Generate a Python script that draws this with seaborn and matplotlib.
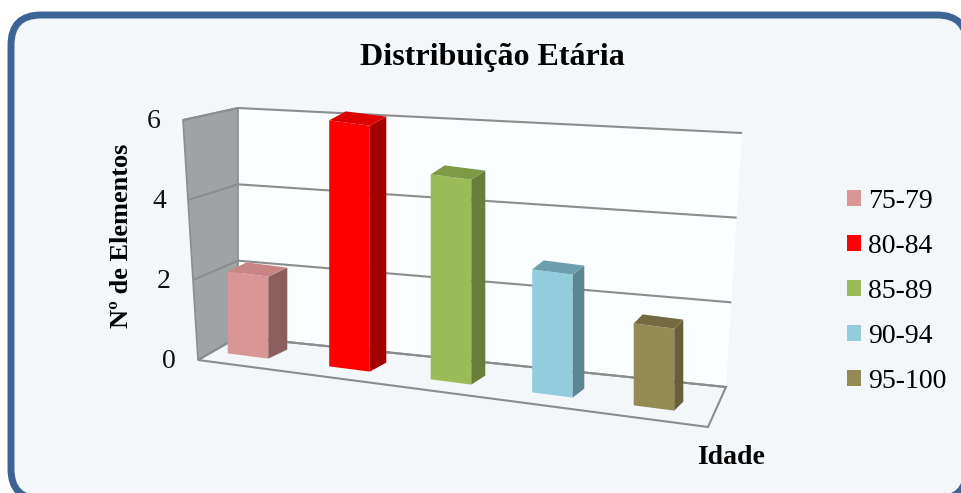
import numpy as np
import pandas as pd
import matplotlib
matplotlib.use("Agg")
import matplotlib.pyplot as plt
import seaborn as sns
from matplotlib.transforms import Affine2D
from matplotlib.patches import Polygon, FancyBboxPatch, Patch

# ---------------- data ----------------
categories = ["75-79", "80-84", "85-89", "90-94", "95-100"]
counts = [2, 6, 5, 3, 2]
y_ticks = [0, 2, 4, 6]
tick_labels = ["0", "2", "4", "6"]
front_colors = ["#D99694", "#FF0000", "#9BBB59", "#93CDDD", "#948A54"]
side_colors = ["#8C5F5E", "#A30000", "#697E3B", "#5E8592", "#665F39"]
top_colors = ["#C98583", "#DD0000", "#7E9A46", "#6C9EAD", "#736A3F"]
title = "Distribuição Etária"
ylabel = "Nº de Elementos"
xlabel = "Idade"

# ---------------- figure ----------------
W, H = 962, 493
plt.rcParams["font.family"] = ["Liberation Serif", "DejaVu Serif"]
fig = plt.figure(figsize=(W / 100, H / 100), dpi=100)
fig.patch.set_facecolor("white")
ax = fig.add_axes([0, 0, 1, 1])

df = pd.DataFrame({"Idade": categories, "N": counts})
sns.barplot(data=df, x="Idade", y="N", hue="Idade", palette=front_colors,
            order=categories, hue_order=categories, width=0.4, saturation=1,
            linewidth=0, legend=False, ax=ax, zorder=4)

# pixel scene (y downward)
ax.set_xlim(0, W)
ax.set_ylim(H, 0)
ax.axis("off")

# rounded frame
frame = FancyBboxPatch((11, 15), 956, 484, boxstyle="round,pad=0,rounding_size=30",
                       facecolor="#F3F7FA", edgecolor="#3D6495", linewidth=5,
                       transform=ax.transData, zorder=0, clip_on=False)
ax.add_patch(frame)

# ----- 3D scene geometry (layout) -----
BW_TL, BW_BL, BW_TR, BW_BR = (238, 108), (238, 337), (742, 133), (726, 387)
LW_FT, LW_FB = (183, 120), (198, 360)
FL_FR = (708, 427)
vmax = y_ticks[-1]

def lerp(p, q, t):
    return (p[0] + (q[0] - p[0]) * t, p[1] + (q[1] - p[1]) * t)

def back_pt(u, v):
    t = v / vmax
    left = lerp(BW_BL, BW_TL, t)
    right = lerp(BW_BR, BW_TR, t)
    return lerp(left, right, u)

def front_edge(v):
    return lerp(LW_FB, LW_FT, v / vmax)

grid_c = "#8C8C8C"
# back wall
ax.add_patch(Polygon([BW_BL, BW_BR, BW_TR, BW_TL], closed=True, facecolor="#FBFEFF",
                     edgecolor="none", zorder=1))
# left wall
ax.add_patch(Polygon([LW_FB, BW_BL, BW_TL, LW_FT], closed=True, facecolor="#A0A3A6",
                     edgecolor=grid_c, linewidth=1.2, zorder=1))
# floor
ax.add_patch(Polygon([LW_FB, BW_BL, BW_BR, FL_FR], closed=True, facecolor="#F3F7FA",
                     edgecolor=grid_c, linewidth=1.5, zorder=1))
# gridlines + tick labels
for v, lab in zip(y_ticks, tick_labels):
    fe = front_edge(v)
    bl = back_pt(0, v)
    br = back_pt(1, v)
    ax.plot([fe[0], bl[0], br[0]], [fe[1], bl[1], br[1]], color=grid_c, lw=1.5,
            zorder=2, solid_capstyle="butt")
    ax.text(fe[0] - 22, fe[1] + 1, lab, ha="right", va="center", fontsize=20,
            color="#111111")

# ----- bars: category/value -> scene via affine -----
M_front = Affine2D.from_values(101.5, 13, 0, -41, 248, 356)
for i, cont in enumerate(ax.containers):
    for p in cont:
        xl = p.get_x()
        xr = xl + p.get_width()
        h = p.get_height()
        p.set_transform(M_front + ax.transData)
        BL, BR, TR, TL = M_front.transform([[xl, 0], [xr, 0], [xr, h], [xl, h]])
        xc = (xl + xr) / 2
        off = np.array([19 - 2.5 * xc, -9])
        ax.add_patch(Polygon([BR, BR + off, TR + off, TR], closed=True,
                             facecolor=side_colors[i], edgecolor="none", zorder=4))
        ax.add_patch(Polygon([TL, TR, TR + off, TL + off], closed=True,
                             facecolor=top_colors[i], edgecolor="none", zorder=4))

# ----- texts -----
ax.text(492, 57, title, ha="center", va="center", fontsize=23, fontweight="bold")
ax.text(122, 236, ylabel, ha="center", va="center", rotation=90, fontsize=19,
        fontweight="bold")
ax.text(731, 457, xlabel, ha="center", va="center", fontsize=20, fontweight="bold")

handles = [Patch(facecolor=c, edgecolor="none") for c in front_colors]
fig.legend(handles, categories, loc="upper left", bbox_to_anchor=(847 / W, 1 - 189 / H),
           frameon=False, fontsize=20, handlelength=0.52, handleheight=0.52,
           handletextpad=0.25, labelspacing=0.72, borderpad=0, borderaxespad=0)

fig.savefig("out.png", dpi=100)
